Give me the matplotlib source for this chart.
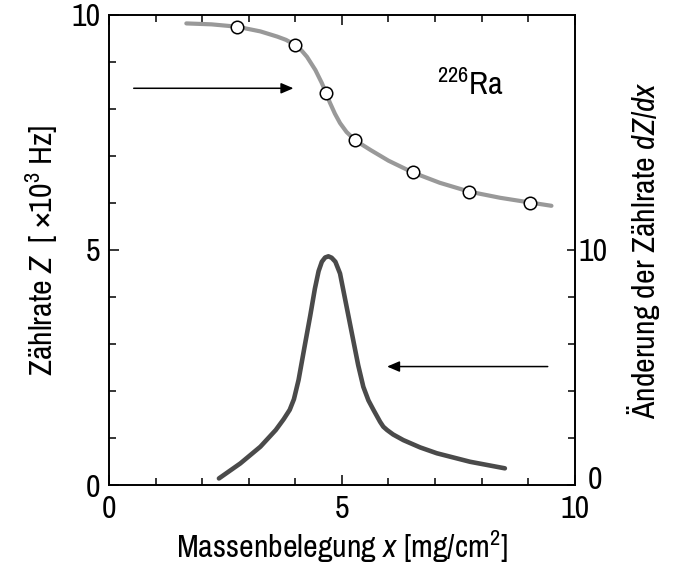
import matplotlib
matplotlib.use("Agg")
import matplotlib.pyplot as plt
from matplotlib import font_manager as fm
from matplotlib.transforms import ScaledTranslation
from matplotlib.ticker import MultipleLocator, FixedLocator

# pick a narrow sans face if one is around, otherwise fall back
installed = {f.name for f in fm.fontManager.ttflist}
narrow = [n for n in installed if "Narrow" in n or "Condensed" in n]
dv_cond = [f for f in fm.fontManager.ttflist
           if f.name == "DejaVu Sans" and "condensed" in str(f.stretch)]
if narrow:
    FAMILY, STRETCH, FS = sorted(narrow)[0], "normal", 23
elif dv_cond:
    FAMILY, STRETCH, FS = "DejaVu Sans", "condensed", 20
else:
    FAMILY, STRETCH, FS = "Roboto", "normal", 19

plt.rcParams["font.family"] = [FAMILY, "DejaVu Sans"]
plt.rcParams["font.stretch"] = STRETCH
plt.rcParams["mathtext.fontset"] = "custom"
plt.rcParams["mathtext.rm"] = FAMILY
plt.rcParams["mathtext.it"] = FAMILY + ":italic"

# counting rate Z (x 10^3 Hz), measured points
x_meas = [2.75, 4.0, 4.665, 5.29, 6.52, 7.74, 9.04]
z_meas = [9.75, 9.36, 8.33, 7.33, 6.65, 6.24, 6.01]

# smooth fit through the counting rate
x_fit = [1.66, 2.2, 2.75, 3.25, 3.61, 3.8, 4.0, 4.12, 4.25, 4.43, 4.57, 4.665,
         4.74, 4.85, 4.96, 5.1, 5.29, 5.61, 6.0, 6.52, 7.1, 7.74, 8.4, 9.04, 9.5]
z_fit = [9.82, 9.80, 9.75, 9.65, 9.54, 9.47, 9.36, 9.26, 9.11, 8.83, 8.55, 8.33,
         8.14, 7.90, 7.70, 7.51, 7.33, 7.13, 6.90, 6.65, 6.43, 6.24, 6.11, 6.01, 5.94]

# derivative dZ/dx (right axis)
x_der = [2.36, 2.82, 3.25, 3.58, 3.75, 3.88, 3.97, 4.07, 4.2, 4.32, 4.42, 4.5,
         4.57, 4.64, 4.71, 4.78, 4.86, 4.96, 5.05, 5.15, 5.25, 5.35, 5.46, 5.57,
         5.68, 5.82, 5.89, 5.97, 6.1, 6.32, 6.68, 7.04, 7.75, 8.5]
d_der = [0.28, 0.92, 1.63, 2.34, 2.80, 3.2, 3.65, 4.47, 5.9, 7.2, 8.35, 9.1,
         9.5, 9.68, 9.73, 9.67, 9.5, 9.0, 8.1, 7.1, 6.1, 5.1, 4.18, 3.6,
         3.19, 2.69, 2.48, 2.34, 2.15, 1.91, 1.6, 1.35, 0.99, 0.71]

fig = plt.figure(figsize=(6.73, 5.75), dpi=100)
ax = fig.add_axes([0.162, 0.1565, 0.692, 0.8175])
ax2 = ax.twinx()

ax.plot(x_fit, z_fit, color="#999999", lw=3.0, solid_capstyle="round",
        solid_joinstyle="round", zorder=2)
ax.plot(x_meas, z_meas, "o", ms=9, mfc="white", mec="black", mew=1.1, zorder=3)
ax2.plot(x_der, d_der, color="#4a4a4a", lw=3.3, solid_capstyle="round",
         solid_joinstyle="round")

ax.set_xlim(0, 10)
ax.set_ylim(0, 10)
ax2.set_ylim(0, 20)

arrow = dict(arrowstyle="-|>,head_length=0.75,head_width=0.32", color="black",
             lw=1.1, shrinkA=0, shrinkB=0)
ax.annotate("", xy=(3.96, 8.44), xytext=(0.53, 8.44), arrowprops=arrow)
ax.annotate("", xy=(5.97, 2.52), xytext=(9.42, 2.52), arrowprops=arrow)

ax.text(7.05, 8.3, r"$^{226}$Ra", fontsize=FS, ha="left", va="baseline")

ax.set_xticks([0, 5, 10])
ax.xaxis.set_minor_locator(MultipleLocator(1))
ax.set_yticks([0, 5, 10])
ax.yaxis.set_minor_locator(MultipleLocator(1))
ax.tick_params(which="both", direction="in", top=True, labelsize=FS, width=1.1)
ax.tick_params(which="major", length=7.5, pad=7)
ax.tick_params(which="minor", length=5)
ax.tick_params(axis="y", pad=6)

ax2.set_yticks([0, 10])
ax2.yaxis.set_minor_locator(FixedLocator([2, 4, 6, 8]))
ax2.tick_params(which="both", direction="in", labelsize=FS, width=1.1)
ax2.tick_params(which="major", length=6, pad=3)
ax2.tick_params(which="minor", length=5)
# the right "0" sits a little above and right of the bottom corner
lab0 = ax2.get_yticklabels()[0]
lab0.set_transform(lab0.get_transform() + ScaledTranslation(0.09, 0.08, fig.dpi_scale_trans))

for a in (ax, ax2):
    for s in a.spines.values():
        s.set_linewidth(1.2)

ax.set_xlabel(r"Massenbelegung $x$ [mg/cm$^2$]", fontsize=FS, labelpad=4)
ax.set_ylabel(r"Zählrate $Z$  [ ×10$^3$ Hz]", fontsize=FS, labelpad=8)
ax2.set_ylabel(r"Änderung der Zählrate $dZ/dx$", fontsize=FS, labelpad=12)

fig.savefig("out.png", dpi=100)
